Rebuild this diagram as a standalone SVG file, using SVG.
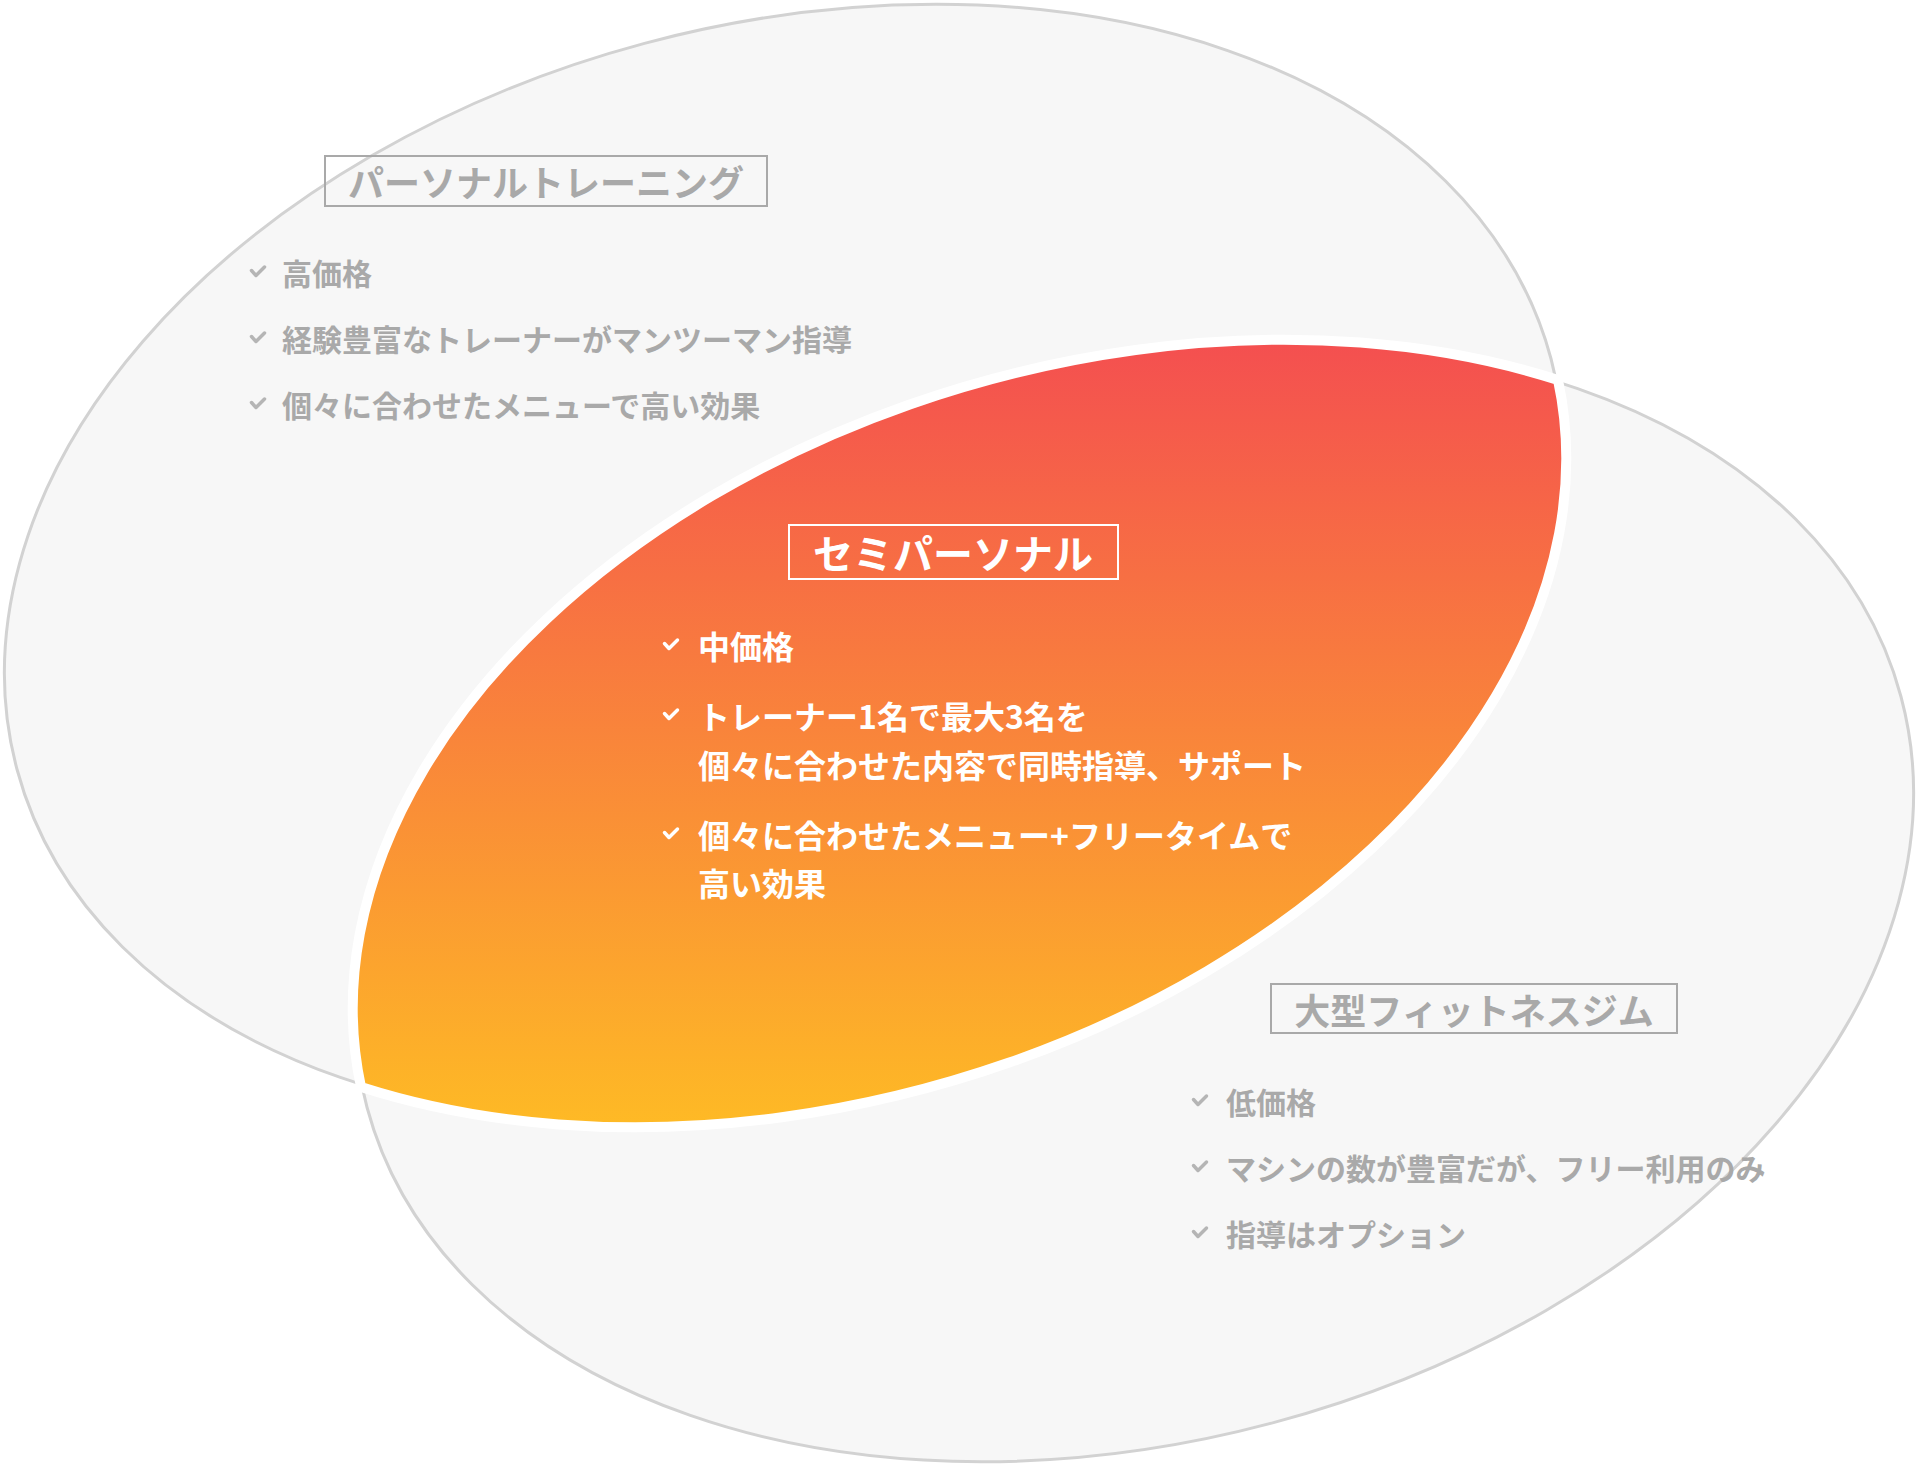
<svg xmlns="http://www.w3.org/2000/svg" xmlns:xlink="http://www.w3.org/1999/xlink" width="1916" height="1472" viewBox="0 0 1916 1472">
  <style>
    .bg { fill: #f7f7f7; stroke: #d2d2d2; stroke-width: 3; }
    .lens { fill: url(#semiGrad); stroke: #ffffff; stroke-width: 10; stroke-linejoin: round; }
    .t { font-family: "Noto Sans CJK JP", "Noto Sans", sans-serif; font-weight: 700; dominant-baseline: central; }
    .gtitle { fill: #a9a9a9; font-size: 36px; text-anchor: middle; }
    .gitem { fill: #a9a9a9; font-size: 30px; }
    .wtitle { fill: #ffffff; font-size: 40px; text-anchor: middle; }
    .witem { fill: #ffffff; font-size: 32px; }
    .gbox { fill: none; stroke: #a9a9a9; stroke-width: 2; }
    .wbox { fill: none; stroke: #ffffff; stroke-width: 2; }
    .gchk { fill: none; stroke: #b5b5b5; stroke-width: 3.5; stroke-linecap: round; stroke-linejoin: round; }
    .wchk { fill: none; stroke: #ffffff; stroke-width: 3.5; stroke-linecap: round; stroke-linejoin: round; }
  </style>
  <defs>
    <linearGradient id="semiGrad" x1="0" y1="0" x2="0" y2="1">
      <stop offset="0" stop-color="#f44f50"/>
      <stop offset="1" stop-color="#feba25"/>
    </linearGradient>
    <path id="chk" d="M-6.5,-1.5 L-2,3.5 L6.5,-5"/>
  </defs>

  <g id="personal">
    <ellipse class="bg" cx="784" cy="564" rx="794" ry="539" transform="rotate(-15 784 564)"/>
    <rect class="gbox" x="325" y="156" width="442" height="50"/>
    <text class="t gtitle" x="546" y="181">パーソナルトレーニング</text>
    <use href="#chk" class="gchk" x="258" y="272"/>
    <text class="t gitem" x="282" y="272">高価格</text>
    <use href="#chk" class="gchk" x="258" y="338"/>
    <text class="t gitem" x="282" y="338">経験豊富なトレーナーがマンツーマン指導</text>
    <use href="#chk" class="gchk" x="258" y="404"/>
    <text class="t gitem" x="282" y="404">個々に合わせたメニューで高い効果</text>
  </g>

  <g id="gym">
    <ellipse class="bg" cx="1134" cy="902" rx="794" ry="539" transform="rotate(-15 1134 902)"/>
    <rect class="gbox" x="1271" y="984" width="406" height="49"/>
    <text class="t gtitle" x="1474" y="1009">大型フィットネスジム</text>
    <use href="#chk" class="gchk" x="1200" y="1101"/>
    <text class="t gitem" x="1226" y="1101">低価格</text>
    <use href="#chk" class="gchk" x="1200" y="1167"/>
    <text class="t gitem" x="1226" y="1167">マシンの数が豊富だが、フリー利用のみ</text>
    <use href="#chk" class="gchk" x="1200" y="1233"/>
    <text class="t gitem" x="1226" y="1233">指導はオプション</text>
  </g>

  <g id="semi">
    <path class="lens" d="M1558,380 A794,539 -15 0 0 361,1087 A794,539 -15 0 0 1558,380 Z"/>
    <rect class="wbox" x="789" y="525" width="329" height="54"/>
    <text class="t wtitle" x="953" y="552">セミパーソナル</text>
    <use href="#chk" class="wchk" x="671" y="645"/>
    <text class="t witem" x="698" y="645">中価格</text>
    <use href="#chk" class="wchk" x="671" y="715"/>
    <text class="t witem" x="698" y="715">トレーナー1名で最大3名を</text>
    <text class="t witem" x="698" y="764">個々に合わせた内容で同時指導、サポート</text>
    <use href="#chk" class="wchk" x="671" y="834"/>
    <text class="t witem" x="698" y="834">個々に合わせたメニュー+フリータイムで</text>
    <text class="t witem" x="698" y="882">高い効果</text>
  </g>

  <g id="connectors"/>
</svg>
